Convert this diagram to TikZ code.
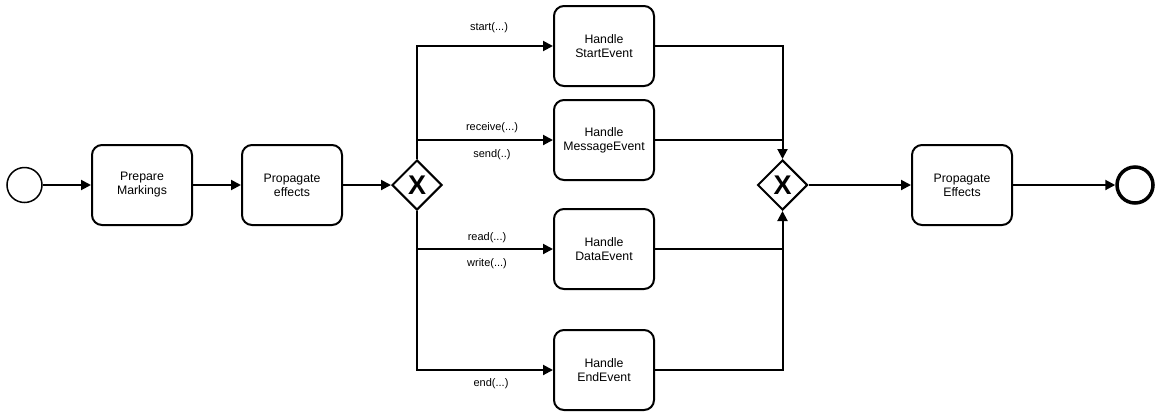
\documentclass[tikz,border=0pt]{standalone}
\usepackage{fontspec}
\setmainfont{Liberation Sans}
\usetikzlibrary{shapes.geometric,arrows.meta}
\begin{document}
\begin{tikzpicture}[x=1pt,y=-1pt,
  task/.style={draw,rectangle,rounded corners=10pt,line width=2pt,minimum width=100pt,minimum height=80pt,align=center,inner sep=0pt,font=\fontsize{12.3}{14}\selectfont},
  gw/.style={draw,diamond,line width=2pt,minimum width=50pt,minimum height=50pt,inner sep=0pt,font=\fontsize{27}{27}\selectfont\bfseries},
  flow/.style={line width=2pt,-{Triangle[length=10pt,width=10pt]}},
  seg/.style={line width=2pt},
  lbl/.style={font=\fontsize{11}{13}\selectfont,inner sep=0pt}]
\useasboundingbox[fill=white] (0,0) rectangle (1158,416);
\node[draw,circle,line width=1.5pt,minimum size=35pt,inner sep=0pt] (start) at (24.5,185) {};
\node[task] (pm) at (142,185) {Prepare\\Markings};
\node[task] (pe) at (292,185) {Propagate\\effects};
\node[gw] (g1) at (417,185) {X};
\node[task] (hs) at (604,46) {Handle\\StartEvent};
\node[task] (hm) at (604,140) {Handle\\MessageEvent};
\node[task] (hd) at (604,249) {Handle\\DataEvent};
\node[task] (he) at (604,370) {Handle\\EndEvent};
\node[gw] (g2) at (782.5,185) {X};
\node[task] (pE) at (962,185) {Propagate\\Effects};
\node[draw,circle,line width=3.5pt,minimum size=36pt,inner sep=0pt] (end) at (1135,185) {};
\draw[flow] (start) -- (pm);
\draw[flow] (pm) -- (pe);
\draw[flow] (pe) -- (g1);
\draw[flow] (g1.north) |- (hs.west);
\draw[flow] (g1.north) |- (hm.west);
\draw[flow] (g1.south) |- (hd.west);
\draw[flow] (g1.south) |- (he.west);
\draw[flow] (hs.east) -| (g2.north);
\draw[seg] (hm.east) -- (hm.east -| g2.north);
\draw[flow] (he.east) -| (g2.south);
\draw[seg] (hd.east) -- (hd.east -| g2.south);
\draw[flow] (g2) -- (pE);
\draw[flow] (pE) -- (end);
\node[lbl] (ls) at (489,28) {start(...)};
\node[lbl] (lr) at (492,127.5) {receive(...)};
\node[lbl] (lse) at (492,154.5) {send(..)};
\node[lbl] (lrd) at (487,237.5) {read(...)};
\node[lbl] (lw) at (487,263.5) {write(...)};
\node[lbl] (le) at (491,384) {end(...)};
\end{tikzpicture}
\end{document}
